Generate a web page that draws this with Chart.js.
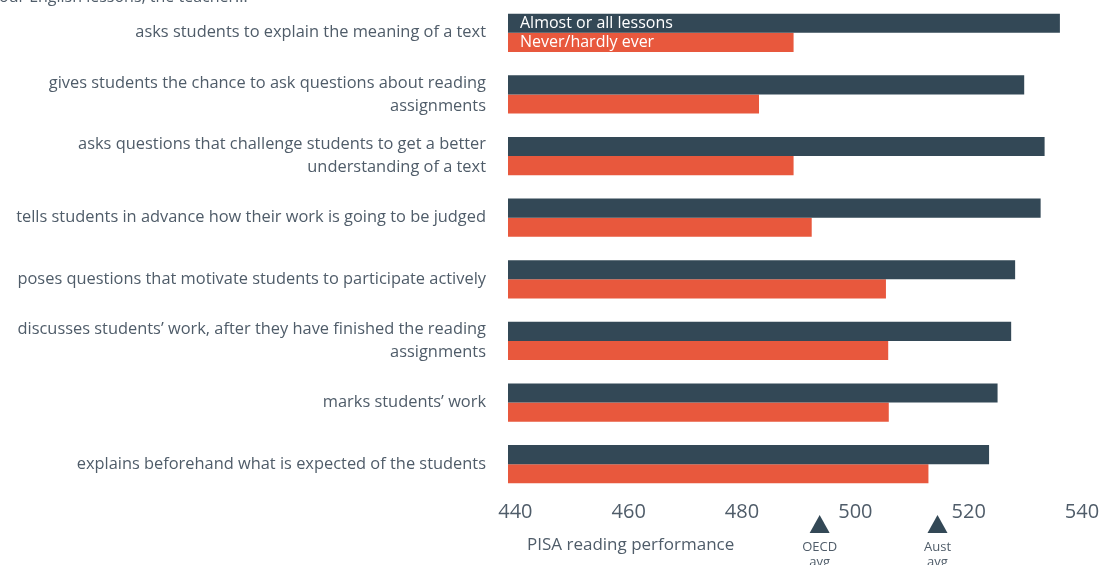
<!DOCTYPE html>
<html>
<head>
<meta charset="utf-8">
<script src="https://cdn.jsdelivr.net/npm/chart.js@4.4.0/dist/chart.umd.min.js"></script>
<style>
  html, body { margin: 0; padding: 0; background: #ffffff; overflow: hidden; }
  #wrap { width: 1100px; height: 565px; position: relative; }
</style>
</head>
<body>
<div id="wrap"><canvas id="c" width="1100" height="565"></canvas></div>
<script>
// ---- data ----
const categories = [
  ["asks students to explain the meaning of a text"],
  ["gives students the chance to ask questions about reading", "assignments"],
  ["asks questions that challenge students to get a better", "understanding of a text"],
  ["tells students in advance how their work is going to be judged"],
  ["poses questions that motivate students to participate actively"],
  ["discusses students\u2019 work, after they have finished the reading", "assignments"],
  ["marks students\u2019 work"],
  ["explains beforehand what is expected of the students"]
];
const seriesNames = ["Almost or all lessons", "Never/hardly ever"];
const almostAll = [536.1, 529.8, 533.4, 532.7, 528.2, 527.5, 525.1, 523.6];
const neverHardly = [489.1, 483.0, 489.1, 492.3, 505.4, 505.8, 505.9, 512.9];
const tickValues = [440, 460, 480, 500, 520, 540];
const axisMin = 438.7;
const axisMax = 540;
const markerValues = [493.7, 514.5];
const markerLabels = [["OECD", "avg"], ["Aust", "avg"]];
const axisTitle = "PISA reading performance";
const topNote = "our English lessons, the teacher...";

// ---- styles ----
const FONT = "'Open Sans', 'Noto Sans', sans-serif";
const TEXT = "#4f5c69";
const DARK = "#334856";
const ORANGE = "#e8583d";

const overlayPlugin = {
  id: 'overlay',
  afterDatasetsDraw(chart) {
    const ctx = chart.ctx;
    const xs = chart.scales.x;
    const ys = chart.scales.y;
    const area = chart.chartArea;
    ctx.save();
    // legend labels inside first row bars
    ctx.font = "16px " + FONT;
    ctx.fillStyle = "#ffffff";
    ctx.textAlign = "left";
    ctx.textBaseline = "middle";
    chart.data.datasets.forEach((ds, i) => {
      const bar = chart.getDatasetMeta(i).data[0];
      const y = (bar && isFinite(bar.y)) ? bar.y : ys.getPixelForValue(0);
      ctx.fillText(ds.label, area.left + 12, y);
    });
    // top note (cut off in the reference)
    ctx.fillStyle = TEXT;
    ctx.textBaseline = "alphabetic";
    ctx.fillText(topNote, -1, 2);
    // axis title
    ctx.font = "17px " + FONT;
    ctx.textBaseline = "middle";
    ctx.fillText(axisTitle, 527, 545);
    // markers
    markerValues.forEach((v, i) => {
      const x = xs.getPixelForValue(v);
      ctx.fillStyle = DARK;
      ctx.beginPath();
      ctx.moveTo(x, 515);
      ctx.lineTo(x + 10, 533);
      ctx.lineTo(x - 10, 533);
      ctx.closePath();
      ctx.fill();
      ctx.fillStyle = TEXT;
      ctx.font = "13px " + FONT;
      ctx.textAlign = "center";
      markerLabels[i].forEach((t, j) => ctx.fillText(t, x, 547 + j * 15));
    });
    ctx.restore();
  }
};

new Chart(document.getElementById('c'), {
  type: 'bar',
  data: {
    labels: categories,
    datasets: [
      { label: seriesNames[0], data: almostAll, backgroundColor: DARK },
      { label: seriesNames[1], data: neverHardly, backgroundColor: ORANGE }
    ]
  },
  options: {
    indexAxis: 'y',
    responsive: false,
    animation: false,
    devicePixelRatio: 1,
    layout: { padding: { top: 2, bottom: 0, left: 0, right: 18 } },
    datasets: { bar: { categoryPercentage: 0.62, barPercentage: 1.0 } },
    plugins: { legend: { display: false }, tooltip: { enabled: false } },
    scales: {
      x: {
        min: axisMin,
        max: axisMax,
        afterBuildTicks(scale) { scale.ticks = tickValues.map(v => ({ value: v })); },
        afterFit(scale) { scale.height = 70; scale.paddingLeft = 0; scale.paddingRight = 0; },
        grid: { display: false, drawTicks: false },
        border: { display: false },
        ticks: { font: { family: FONT, size: 20 }, color: TEXT, padding: 5, maxRotation: 0 }
      },
      y: {
        grid: { display: false, drawTicks: false },
        border: { display: false },
        afterFit(scale) { scale.width = 508; scale.paddingTop = 0; scale.paddingBottom = 0; },
        ticks: { font: { family: FONT, size: 16.4, lineHeight: 1.4 }, color: TEXT, padding: 22 }
      }
    }
  },
  plugins: [overlayPlugin]
});
</script>
</body>
</html>
